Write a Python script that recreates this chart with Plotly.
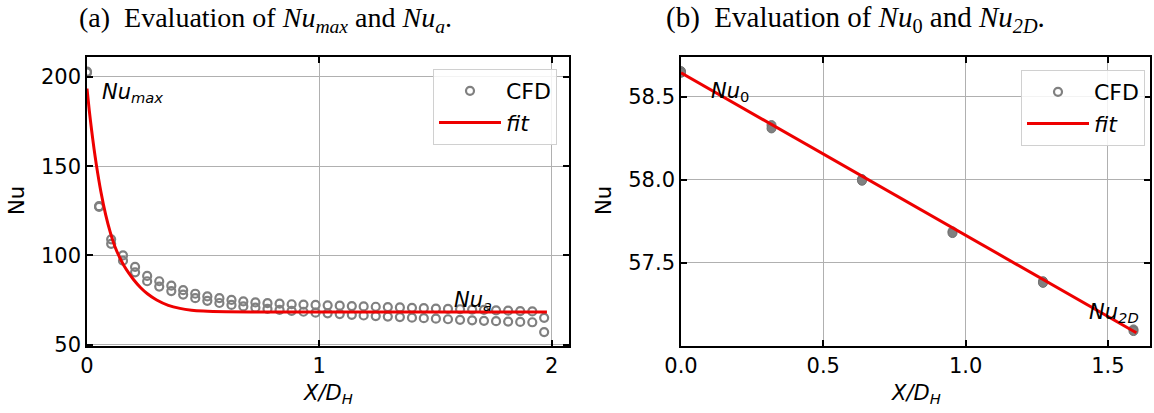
import plotly.graph_objects as go

# ---------------- Panel (a): Nu_max and Nu_a ----------------
xa_cfd = [0.0, 0.052, 0.104, 0.155, 0.207, 0.259, 0.311, 0.363, 0.414, 0.466,
          0.518, 0.570, 0.622, 0.673, 0.725, 0.777, 0.829, 0.881, 0.932, 0.984,
          1.036, 1.088, 1.140, 1.191, 1.243, 1.295, 1.347, 1.399, 1.450, 1.502,
          1.554, 1.606, 1.658, 1.709, 1.761, 1.813, 1.865, 1.917, 1.968]
nu_a_upper = [203.0, 127.6, 109.0, 100.0, 93.5, 88.5, 85.5, 83.0, 80.5, 78.5,
              77.0, 76.0, 75.0, 74.2, 73.6, 73.2, 72.9, 72.6, 72.4, 72.2,
              72.0, 71.8, 71.6, 71.4, 71.2, 71.0, 70.8, 70.6, 70.4, 70.2,
              70.0, 69.8, 69.6, 69.4, 69.2, 69.0, 68.8, 68.6, 65.0]
nu_a_lower = [202.5, 127.2, 106.5, 97.0, 90.5, 85.5, 82.5, 80.0, 78.0, 76.0,
              74.5, 73.3, 72.2, 71.4, 70.7, 70.0, 69.4, 68.9, 68.4, 67.9,
              67.5, 67.1, 66.7, 66.3, 66.0, 65.7, 65.4, 65.1, 64.8, 64.5,
              64.2, 63.9, 63.6, 63.3, 63.1, 62.9, 62.7, 62.5, 57.0]
xa_fit = [0.0, 0.01, 0.02, 0.03, 0.04, 0.06, 0.08, 0.10, 0.12, 0.14, 0.16, 0.18,
          0.20, 0.23, 0.26, 0.30, 0.35, 0.40, 0.45, 0.50, 0.60, 0.80, 1.20, 1.60, 1.98]
nu_a_fit = [193.5, 181.0, 170.0, 160.0, 151.0, 135.5, 123.0, 113.0, 105.0, 99.0, 94.0, 90.0,
            86.5, 82.0, 78.5, 75.0, 72.0, 70.3, 69.3, 68.8, 68.4, 68.2, 68.2, 68.2, 68.2]

# ---------------- Panel (b): Nu_0 and Nu_2D ----------------
xb_cfd = [0.0, 0.318, 0.636, 0.954, 1.272, 1.590]
nu_b_upper = [58.655, 58.33, 58.005, 57.69, 57.39, 57.10]
nu_b_lower = [58.645, 58.31, 57.995, 57.68, 57.38, 57.09]
xb_fit = [0.0, 1.60]
nu_b_fit = [58.645, 57.08]

# ---------------- Text ----------------
title_a = "(a)  Evaluation of <i>Nu</i><sub><i>max</i></sub> and <i>Nu</i><sub><i>a</i></sub>."
title_b = "(b)  Evaluation of <i>Nu</i><sub>0</sub> and <i>Nu</i><sub><i>2D</i></sub>."
xlabel = "<i>X/D<sub>H</sub></i>"
ylabel = "Nu"

W, H = 1154, 413
GRAY = "#808080"
RED = "#ee0000"
SANS = "DejaVu Sans"
SERIF = "Liberation Serif"
FS = 21

fig = go.Figure()

# panel (a) traces
for i, yv in enumerate([nu_a_upper, nu_a_lower]):
    fig.add_trace(go.Scatter(
        x=xa_cfd, y=yv, mode="markers", name="CFD",
        marker=dict(symbol="circle-open", size=8, color=GRAY, line=dict(width=2.2, color=GRAY)),
        showlegend=(i == 0), legend="legend", xaxis="x", yaxis="y"))
fig.add_trace(go.Scatter(
    x=xa_fit, y=nu_a_fit, mode="lines", name="<i>fit</i>",
    line=dict(color=RED, width=3, shape="spline", smoothing=0.6),
    legend="legend", xaxis="x", yaxis="y"))

# panel (b) traces
for yv in [nu_b_upper, nu_b_lower]:
    fig.add_trace(go.Scatter(
        x=xb_cfd, y=yv, mode="markers", name="CFD",
        marker=dict(symbol="circle", size=9, color=GRAY, line=dict(width=1, color="#707070")),
        showlegend=False, xaxis="x2", yaxis="y2"))
fig.add_trace(go.Scatter(
    x=[None], y=[None], mode="markers", name="CFD",
    marker=dict(symbol="circle-open", size=8, color=GRAY, line=dict(width=2.2, color=GRAY)),
    legend="legend2", xaxis="x2", yaxis="y2"))
fig.add_trace(go.Scatter(
    x=xb_fit, y=nu_b_fit, mode="lines", name="<i>fit</i>",
    line=dict(color=RED, width=3),
    legend="legend2", xaxis="x2", yaxis="y2"))

# geometry in pixels
ax_a = (87, 569)
ax_b = (681, 1150)
top, bottom = 57, 346
ydom = [1 - bottom / H, 1 - top / H]

axis_common = dict(
    showline=True, linecolor="black", linewidth=1.6, mirror="allticks",
    ticks="inside", ticklen=6, tickwidth=1.5, tickcolor="black",
    showgrid=True, gridcolor="#b0b0b0", gridwidth=1.2, zeroline=False,
    automargin=False,
    tickfont=dict(family=SANS, size=FS, color="black"),
)

legend_common = dict(
    xanchor="right", yanchor="top",
    bgcolor="rgba(255,255,255,0.85)", bordercolor="#d0d0d0", borderwidth=1,
    font=dict(family=SANS, size=22, color="black"), itemwidth=62, tracegroupgap=0,
)

fig.update_layout(
    width=W, height=H,
    margin=dict(l=0, r=0, t=0, b=0, autoexpand=False),
    paper_bgcolor="white", plot_bgcolor="white",
    font=dict(family=SANS, size=FS, color="black"),
    xaxis=dict(domain=[ax_a[0] / W, ax_a[1] / W], range=[0, 2.075],
               tickvals=[0, 1, 2], anchor="y", **axis_common),
    yaxis=dict(domain=ydom, range=[49.2, 211.2], tickvals=[50, 100, 150, 200],
               anchor="x", **axis_common),
    xaxis2=dict(domain=[ax_b[0] / W, ax_b[1] / W], range=[0, 1.648],
                tickvals=[0.0, 0.5, 1.0, 1.5], tickformat=".1f", anchor="y2", **axis_common),
    yaxis2=dict(domain=ydom, range=[57.0, 58.74], tickvals=[57.5, 58.0, 58.5],
                tickformat=".1f", anchor="x2", **axis_common),
    legend=dict(x=557 / W, y=1 - 69 / H, **legend_common),
    legend2=dict(x=1145 / W, y=1 - 70 / H, **legend_common),
)

ann = []
# captions
ann.append(dict(text=title_a, x=265 / W, y=1 - 19 / H, xref="paper", yref="paper",
                xanchor="center", yanchor="middle", showarrow=False,
                font=dict(family=SERIF, size=28, color="black")))
ann.append(dict(text=title_b, x=855 / W, y=1 - 19 / H, xref="paper", yref="paper",
                xanchor="center", yanchor="middle", showarrow=False,
                font=dict(family=SERIF, size=29, color="black")))
# axis titles
for cx in [(ax_a[0] + ax_a[1]) / 2, (ax_b[0] + ax_b[1]) / 2]:
    ann.append(dict(text=xlabel, x=cx / W, y=1 - 394 / H, xref="paper", yref="paper",
                    xanchor="center", yanchor="middle", showarrow=False,
                    font=dict(family=SANS, size=FS, color="black")))
for cx in [17, 604]:
    ann.append(dict(text=ylabel, x=cx / W, y=1 - 201 / H, xref="paper", yref="paper",
                    xanchor="center", yanchor="middle", showarrow=False, textangle=-90,
                    font=dict(family=SANS, size=FS, color="black")))
# in-plot labels
ann.append(dict(text="<i>Nu<sub>max</sub></i>", x=0.058, y=191, xref="x", yref="y",
                xanchor="left", yanchor="middle", showarrow=False,
                font=dict(family=SANS, size=FS, color="black")))
ann.append(dict(text="<i>Nu<sub>a</sub></i>", x=1.572, y=74.5, xref="x", yref="y",
                xanchor="left", yanchor="middle", showarrow=False,
                font=dict(family=SANS, size=FS, color="black")))
ann.append(dict(text="<i>Nu</i><sub>0</sub>", x=0.097, y=58.53, xref="x2", yref="y2",
                xanchor="left", yanchor="middle", showarrow=False,
                font=dict(family=SANS, size=FS, color="black")))
ann.append(dict(text="<i>Nu<sub>2D</sub></i>", x=1.425, y=57.2, xref="x2", yref="y2",
                xanchor="left", yanchor="middle", showarrow=False,
                font=dict(family=SANS, size=FS, color="black")))
fig.update_layout(annotations=ann)

fig.write_html("out.html", config={"displayModeBar": False},
               post_script="document.body.style.margin='0';")
